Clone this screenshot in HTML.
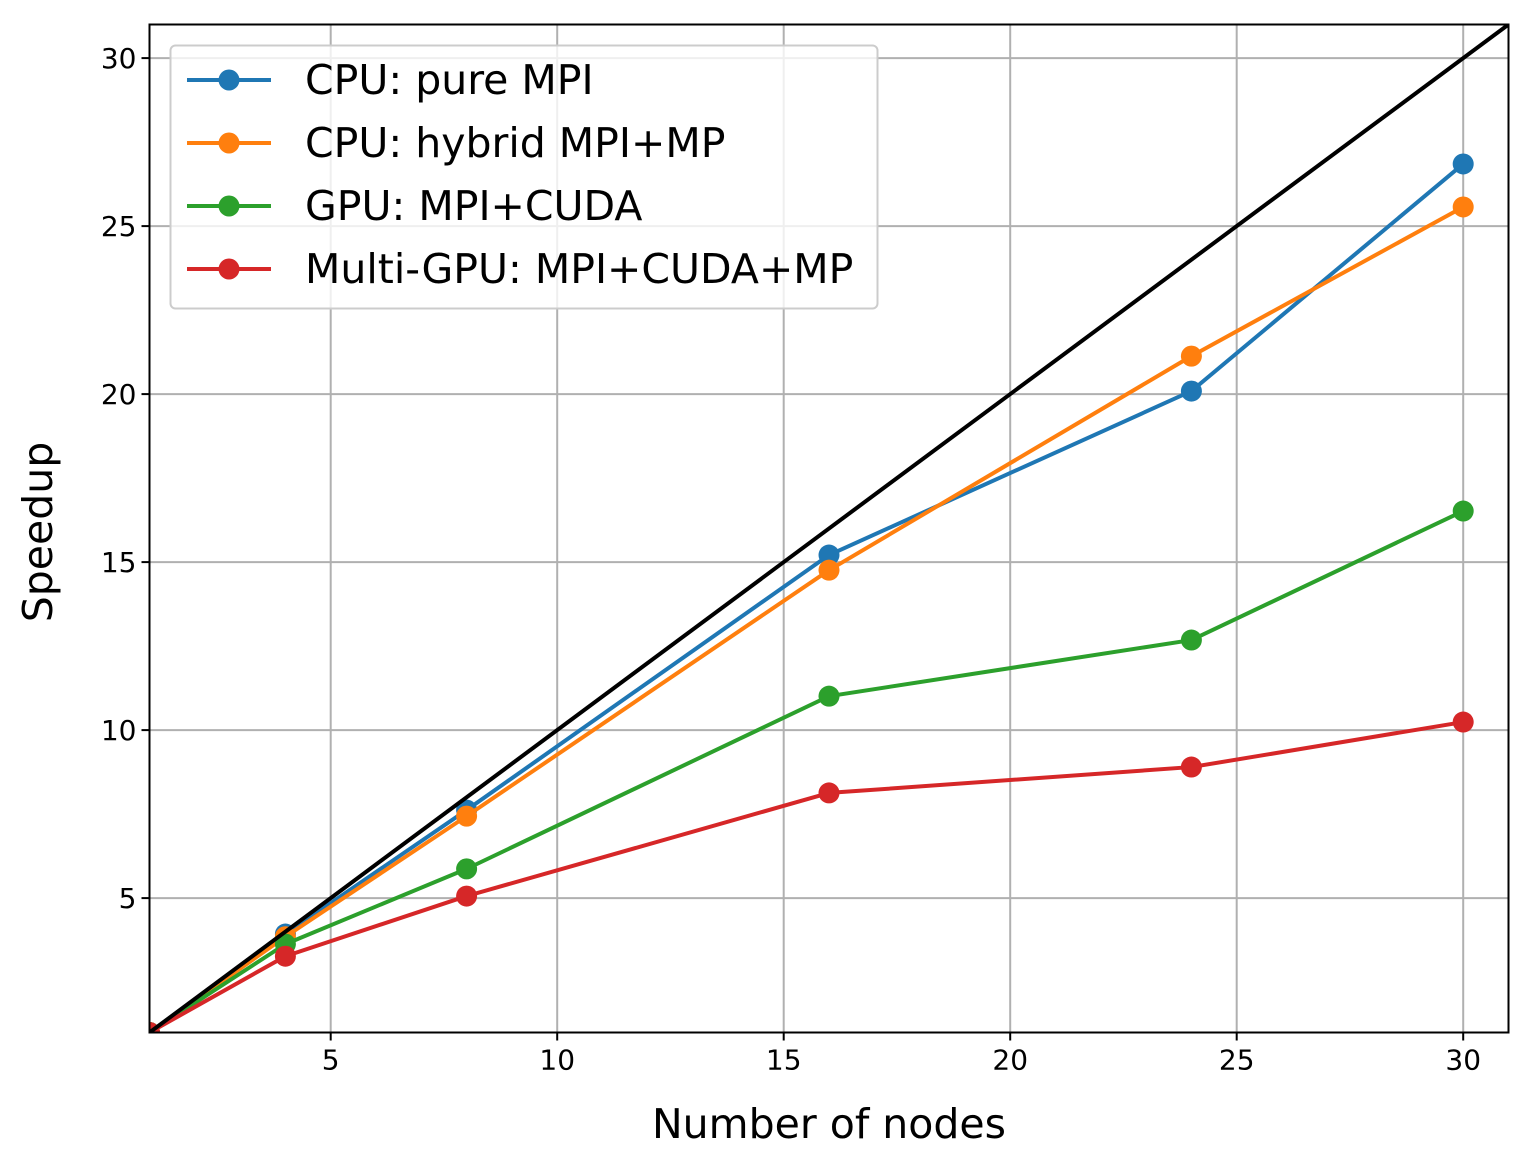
<!DOCTYPE html>
<html><head><meta charset="utf-8"><style>
html,body{margin:0;padding:0;background:#fff;}
svg{display:block;font-family:"DejaVu Sans","Liberation Sans",sans-serif;}
</style></head><body>
<svg id="chart" width="1534" height="1172" viewBox="0 0 1534 1172" xmlns="http://www.w3.org/2000/svg">
<rect width="1534" height="1172" fill="#fff"/>
<g id="grid"></g>
<g id="ticks"></g>
<g id="series"></g>
<rect x="149.5" y="24.5" width="1359" height="1008" fill="none" stroke="#000" stroke-width="2"/>
<text x="829" y="1138" font-size="41" text-anchor="middle">Number of nodes</text>
<text transform="translate(52,532) rotate(-90)" font-size="41" text-anchor="middle">Speedup</text>
<g id="legend"></g>
</svg>
<script>
const xs = [1, 4, 8, 16, 24, 30];
const seriesNames = ["CPU: pure MPI", "CPU: hybrid MPI+MP", "GPU: MPI+CUDA", "Multi-GPU: MPI+CUDA+MP"];
const cpuPure = [1, 3.93, 7.62, 15.21, 20.09, 26.85];
const cpuHybrid = [1, 3.85, 7.44, 14.76, 21.13, 25.57];
const gpu = [1, 3.63, 5.87, 11.01, 12.68, 16.52];
const multiGpu = [1, 3.27, 5.06, 8.13, 8.90, 10.24];
const colors = ["#1f77b4", "#ff7f0e", "#2ca02c", "#d62728"];
const xTicks = [5, 10, 15, 20, 25, 30];
const yTicks = [5, 10, 15, 20, 25, 30];
const idealLine = [1, 31];

const NS = "http://www.w3.org/2000/svg";
const X0 = 149.5, X1 = 1508.5, Y0 = 1032.5, Y1 = 24.5;
const xMin = 1, xMax = 31, yMin = 1, yMax = 31;
const sx = v => X0 + (v - xMin) / (xMax - xMin) * (X1 - X0);
const sy = v => Y0 - (v - yMin) / (yMax - yMin) * (Y0 - Y1);
function mk(tag, attrs, parent) {
  const e = document.createElementNS(NS, tag);
  for (const k in attrs) e.setAttribute(k, attrs[k]);
  parent.appendChild(e);
  return e;
}
const grid = document.getElementById("grid");
const ticks = document.getElementById("ticks");
xTicks.forEach(t => {
  const g = mk("line", {x1: sx(t), x2: sx(t), y1: Y1, y2: Y0, stroke: "#b0b0b0", "stroke-width": 2}, grid);
  
  
  const tk = mk("line", {x1: sx(t), x2: sx(t), y1: Y0, y2: Y0 + 8, stroke: "#000", "stroke-width": 2}, ticks);
  
  
  const tl = mk("text", {x: sx(t), y: Y0 + 37, "font-size": 28, "text-anchor": "middle"}, ticks);
  tl.textContent = t;
  
  
});
yTicks.forEach(t => {
  const g = mk("line", {x1: X0, x2: X1, y1: sy(t), y2: sy(t), stroke: "#b0b0b0", "stroke-width": 2}, grid);
  
  
  const tk = mk("line", {x1: X0 - 8, x2: X0, y1: sy(t), y2: sy(t), stroke: "#000", "stroke-width": 2}, ticks);
  
  
  const tl = mk("text", {x: X0 - 13, y: sy(t) + 10, "font-size": 28, "text-anchor": "end"}, ticks);
  tl.textContent = t;
  
  
});
const series = document.getElementById("series");
const clip = mk("clipPath", {id: "pc"}, series);
mk("rect", {x: X0, y: Y1, width: X1 - X0, height: Y0 - Y1}, clip);
const all = [cpuPure, cpuHybrid, gpu, multiGpu];
const names = ["cpu-pure-mpi", "cpu-hybrid", "gpu-mpi-cuda", "multi-gpu"];
all.forEach((ys, i) => {
  const g = mk("g", {"clip-path": "url(#pc)"}, series);
  
  
  const pl = mk("polyline", {points: xs.map((x, j) => sx(x) + "," + sy(ys[j])).join(" "), fill: "none", stroke: colors[i], "stroke-width": 4, "stroke-linejoin": "round"}, g);
  
  
  xs.forEach((x, j) => {
    const c = mk("circle", {cx: sx(x), cy: sy(ys[j]), r: 10.5, fill: colors[i]}, g);
    
    
  });
});
const ideal = mk("line", {x1: sx(idealLine[0]), y1: sy(idealLine[0]), x2: sx(idealLine[1]), y2: sy(idealLine[1]), stroke: "#000", "stroke-width": 4, "clip-path": "url(#pc)"}, series);



const legend = document.getElementById("legend");
const box = mk("rect", {x: 170.5, y: 45.5, width: 707, height: 263, rx: 5, fill: "#fff", "fill-opacity": 0.8, stroke: "#cccccc", "stroke-width": 2}, legend);


seriesNames.forEach((n, i) => {
  const y = 80 + i * 63;
  const g = mk("g", {}, legend);
  
  
  mk("line", {x1: 187, x2: 271, y1: y, y2: y, stroke: colors[i], "stroke-width": 4}, g);
  mk("circle", {cx: 229, cy: y, r: 10.5, fill: colors[i]}, g);
  const t = mk("text", {x: 305, y: y + 14, "font-size": 41}, g);
  t.textContent = n;
});
</script>
</body></html>
